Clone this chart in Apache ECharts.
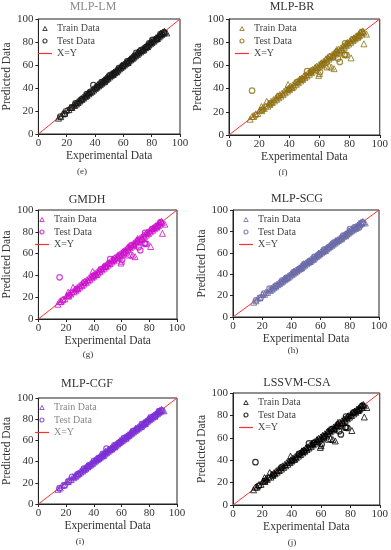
<!DOCTYPE html>
<html><head><meta charset="utf-8">
<script src="https://cdn.jsdelivr.net/npm/echarts@6/dist/echarts.min.js"></script>
<style>html,body{margin:0;padding:0;background:#fff}#c{width:391px;height:550px}</style>
</head><body><div id="c"></div>
<script>
// ---------- DATA ----------
const axisTicks = [0, 20, 40, 60, 80, 100];
const panelTitles = ['MLP-LM', 'MLP-BR', 'GMDH', 'MLP-SCG', 'MLP-CGF', 'LSSVM-CSA'];
const panelLabels = ['(e)', '(f)', '(g)', '(h)', '(i)', '(j)'];

// tight-fit models (MLP-LM, MLP-SCG, MLP-CGF): train data
const trainTight = [[14.2,13.8],[15.8,15.1],[17.1,17.6],[18.5,18.0],[20.3,20.9],[21.6,21.2],[22.4,23.1],[23.7,23.0],[24.9,25.6],[25.6,24.8],[26.3,26.9],[26.9,26.1],[27.5,28.2],[28.1,27.4],[28.8,29.3],[29.4,28.7],[30.2,30.8],[30.7,30.1],[31.3,31.9],[31.9,31.2],[32.6,33.1],[33.2,32.5],[33.8,34.4],[34.3,33.6],[35.0,35.7],[35.6,34.9],[36.1,36.8],[36.7,36.0],[37.4,38.0],[37.9,37.1],[38.5,39.2],[39.1,38.3],[39.8,40.4],[40.3,39.7],[40.9,41.6],[41.4,40.8],[42.0,42.7],[42.6,41.9],[43.1,43.8],[43.7,43.0],[44.2,44.9],[44.8,44.1],[45.3,46.0],[45.9,45.2],[46.4,47.1],[47.0,46.3],[47.5,48.3],[48.1,47.4],[48.7,49.4],[49.2,48.5],[49.8,50.6],[50.4,49.7],[50.9,51.7],[51.5,50.9],[52.1,52.8],[52.6,52.0],[53.2,53.9],[53.8,53.1],[54.4,55.0],[54.9,54.3],[55.5,56.2],[56.1,55.4],[56.7,57.3],[57.2,56.6],[57.8,58.5],[58.4,57.7],[59.0,59.6],[59.5,58.9],[60.1,60.8],[60.7,60.0],[61.3,61.9],[61.8,61.2],[62.4,63.1],[63.0,62.3],[63.6,64.2],[64.1,63.5],[64.7,65.4],[65.3,64.6],[65.9,66.5],[66.4,65.8],[67.0,67.7],[67.6,66.9],[68.2,68.8],[68.7,68.1],[69.3,70.0],[69.9,69.2],[70.5,71.1],[71.0,70.4],[71.6,72.3],[72.2,71.5],[72.8,73.4],[73.3,72.7],[73.9,74.6],[74.5,73.8],[75.1,75.7],[75.6,75.0],[76.2,76.9],[76.8,76.1],[77.4,78.0],[77.9,77.3],[78.5,79.2],[79.1,78.4],[79.7,80.3],[80.2,79.6],[80.8,81.5],[81.4,80.7],[82.0,82.6],[82.5,81.9],[83.1,83.8],[83.7,83.0],[84.3,84.9],[84.8,84.2],[85.4,86.0],[86.0,85.3],[86.6,87.2],[87.1,86.5],[87.7,88.4],[88.3,87.6],[88.9,89.3],[89.5,88.7],[90.6,87.9],
  [35.3,36.4],[41.8,42.9],[46.8,45.7],[52.9,51.9],[58.7,59.8],[63.3,62.1],[70.2,71.4],[74.2,73.1],[79.4,80.6],[84.0,82.9],[86.3,87.5],[48.4,49.8],[55.2,54.0],[66.7,67.9],[77.1,75.9]];

const testLM = [[15.5,15.2],[18.7,17.4],[19.5,19.8],[23.8,23.2],[26.2,26.7],[30.5,30.1],[34.1,34.6],[38.8,42.5],[41.2,40.6],[44.6,45.1],[47.8,47.2],[50.6,51.3],[53.5,52.9],[56.9,57.4],[59.8,59.3],[62.7,63.2],[66.1,65.5],[69.1,70.6],[72.4,72.9],[75.9,75.3],[78.2,78.8],[80.5,81.8],[83.4,82.8],[86.2,86.9],[88.6,88.1]];
const testSCG = [[15.8,15.6],[18.9,18.1],[21.2,21.8],[25.0,26.5],[29.4,29.0],[33.6,34.1],[37.2,36.7],[41.5,42.0],[45.3,44.8],[48.6,49.3],[52.4,51.9],[55.7,56.3],[58.9,58.4],[62.3,62.9],[65.6,65.1],[69.0,69.6],[72.1,71.5],[75.4,76.0],[78.0,77.5],[80.1,82.2],[83.2,83.7],[86.4,83.6],[88.7,88.3]];
const testCGF = [[15.2,15.0],[19.0,17.6],[21.7,21.3],[24.3,25.7],[28.6,28.1],[32.8,33.4],[36.4,35.8],[40.1,40.8],[43.9,43.3],[46.5,47.2],[49.1,52.2],[51.8,51.3],[54.8,55.4],[58.2,57.6],[61.6,62.2],[64.9,64.3],[68.4,69.0],[71.7,71.2],[74.6,75.3],[77.8,77.2],[81.0,81.7],[84.1,83.5],[86.9,87.5],[88.8,88.2]];

// loose-fit models (MLP-BR, GMDH, LSSVM-CSA): train data
const trainLoose = [[14.0,13.6],[15.2,15.9],[16.4,16.0],[17.8,18.3],[19.1,18.5],[20.5,21.4],[21.8,21.0],[22.6,23.8],[23.4,22.9],[24.3,25.1],[25.8,24.9],[26.5,27.6],[27.2,26.4],[28.0,28.9],[28.7,27.9],[29.5,30.6],[30.1,29.4],[30.9,31.8],[31.6,30.8],[32.3,33.5],[33.0,32.1],[33.7,34.9],[34.5,33.6],[35.2,36.1],[35.9,35.0],[36.6,37.8],[37.3,36.4],[38.0,39.1],[38.8,37.9],[39.5,40.4],[40.2,39.3],[40.9,42.0],[41.7,40.8],[42.4,43.3],[43.1,42.2],[43.8,44.9],[44.6,43.7],[45.3,46.2],[46.0,45.1],[46.7,47.8],[47.5,46.6],[48.2,49.1],[48.9,48.0],[49.6,50.7],[50.4,49.5],[51.1,52.0],[51.8,50.9],[52.5,53.6],[53.3,52.4],[54.0,54.9],[54.7,53.8],[55.4,56.5],[56.2,55.3],[56.9,57.8],[57.6,56.7],[58.3,59.4],[59.1,58.2],[59.8,60.7],[60.5,59.6],[61.2,62.3],[62.0,61.1],[62.7,63.6],[63.4,62.5],[64.1,65.2],[64.9,64.0],[65.6,66.5],[66.3,65.4],[67.0,68.1],[67.8,66.9],[68.5,69.4],[69.2,68.3],[69.9,71.0],[70.7,69.8],[71.4,72.3],[72.1,71.2],[72.8,73.9],[73.6,72.7],[74.3,75.2],[75.0,74.1],[75.7,76.8],[76.5,75.6],[77.2,78.1],[77.9,77.0],[78.6,79.7],[79.4,78.5],[80.1,81.0],[80.8,79.9],[81.5,82.6],[82.3,81.4],[83.0,83.9],[83.7,82.8],[84.4,85.5],[85.2,84.3],[85.9,86.8],[86.6,85.7],[87.3,88.4],[88.1,87.2],[88.8,89.7],[89.5,88.6],
  [42.0,41.0],[47.1,48.4],[50.0,51.3],[53.7,54.6],[57.3,58.5],[61.6,60.4],[64.5,65.8],[68.9,67.7],[71.0,72.2],[74.7,73.5],[78.2,79.4],[82.7,83.5],[85.6,84.6],[87.7,88.9],
  [91.2,87.0],[89.5,78.6],[81.0,66.5],[71.5,73.7],[65.0,58.7],[69.7,57.2],[59.5,51.4],[39.2,43.6],[25.0,29.0],[21.5,24.5],[68.0,58.5],[66.5,59.5],[60.0,53.0]];
const testLoose = [[15.3,38.2],[77.0,79.0],[77.0,69.4],[78.0,68.8],[76.5,69.0],[73.5,63.0],[72.3,65.9],[60.4,54.3],[51.8,55.0],[17.5,17.0],[22.0,21.6],[27.5,27.0],[33.0,33.5],[40.0,39.5],[45.0,45.6],[48.5,48.0],[55.0,55.5],[62.0,61.4],[67.0,67.6],[82.0,82.5],[86.0,85.4],[88.0,88.6]];

const identityLine = [[0,0],[100,100]];

const panelTrain = [trainTight, trainLoose, trainLoose, trainTight, trainTight, trainLoose];
const panelTest = [testLM, testLoose, testLoose, testSCG, testCGF, testLoose];

// ---------- LAYOUT / STYLE ----------
const grids = [
  {left:32, top:19, width:148, height:115},
  {left:229, top:19, width:152, height:116},
  {left:29, top:210, width:148, height:109},
  {left:233, top:210, width:146, height:107},
  {left:29, top:398, width:148, height:106},
  {left:233, top:393, width:147, height:112}
];
const colors = ['#151515', '#8C7012', '#CC10CC', '#6A6AA8', '#7A30D6', '#000000'];
const titlePos = [[93,7],[292,7],[87,200],[297,199],[87,384],[297,383]];
const titleColors = ['#8a8a8a','#333','#333','#333','#333','#333'];
const subPos = [[82,172],[283,173],[88,355],[293,351],[80,542],[292,543]];
const legendText = ['#444','#444','#444','#444','#888','#444'];
const FONT = '"Liberation Serif","Times New Roman",serif';
const triPath = 'path://M5,0 L10,9 L0,9 Z';
const circPath = 'path://M5,0 A5,5 0 1 1 4.99,0 Z';
const linePath = 'path://M0,0 L14,0 L14,1.2 L0,1.2 Z';

const option = {
  animation: false,
  backgroundColor: '#fff',
  grid: [], xAxis: [], yAxis: [], series: [], legend: [], graphic: []
};

grids.forEach((g, i) => {
  const sfx = '#' + i;
  option.grid.push(Object.assign({show:true, borderColor:'#222', borderWidth:1, backgroundColor:'transparent'}, g));
  const axisCommon = {
    gridIndex: i, type:'value', min: axisTicks[0], max: axisTicks[axisTicks.length-1], interval: axisTicks[1]-axisTicks[0],
    axisLine: {show:true, lineStyle:{color:'#222', width:1}},
    axisTick: {show:true, inside:false, length:3, lineStyle:{color:'#222'}},
    splitLine: {show:false},
    axisLabel: {fontFamily: FONT, fontSize: 11, color:'#333'},
    nameLocation: 'middle',
    nameTextStyle: {fontFamily: FONT, fontSize: 11.5, color:'#333'}
  };
  option.xAxis.push(Object.assign({}, axisCommon, {name:'Experimental Data', nameGap: 14, axisLabel: Object.assign({}, axisCommon.axisLabel, {margin:4})}));
  option.yAxis.push(Object.assign({}, axisCommon, {name:'Predicted Data', nameGap: 16, axisLabel: Object.assign({}, axisCommon.axisLabel, {margin:5})}));
  const c = colors[i];
  option.series.push({
    name: 'Train Data' + sfx, type:'scatter', xAxisIndex:i, yAxisIndex:i,
    symbol:'triangle', symbolSize:6,
    itemStyle:{color:'transparent', borderColor:c, borderWidth:1},
    data: panelTrain[i]
  });
  option.series.push({
    name: 'Test Data' + sfx, type:'scatter', xAxisIndex:i, yAxisIndex:i,
    symbol:'circle', symbolSize:5.5,
    itemStyle:{color:'transparent', borderColor:c, borderWidth:1.2},
    data: panelTest[i]
  });
  option.series.push({
    name: 'X=Y' + sfx, type:'line', xAxisIndex:i, yAxisIndex:i,
    symbol:'none', lineStyle:{color:'#FF3030', width:1}, itemStyle:{color:'#FF3030'},
    z: 1, data: identityLine
  });
  option.legend.push({
    orient:'vertical', left: g.left + 6, top: g.top + 4,
    itemWidth: 14, itemHeight: 4, itemGap: 1.5, padding: 0,
    symbolKeepAspect: true,
    formatter: n => n.split('#')[0],
    textStyle: {fontFamily: FONT, fontSize: 10, color: legendText[i], lineHeight: 11, padding:[0,0,0,0]},
    data: [
      {name:'Train Data'+sfx, icon: triPath, itemStyle:{color:'transparent', borderColor:c, borderWidth:1}},
      {name:'Test Data'+sfx, icon: circPath, itemStyle:{color:'transparent', borderColor:c, borderWidth:1.2}},
      {name:'X=Y'+sfx, icon: linePath, itemStyle:{color:'#FF3030', borderWidth:0}}
    ]
  });
  option.graphic.push({
    type:'text', x: titlePos[i][0], y: titlePos[i][1],
    style:{text: panelTitles[i], fontFamily: FONT, fontSize: 12, fill: titleColors[i], align:'center', verticalAlign:'middle'}
  });
  option.graphic.push({
    type:'text', x: subPos[i][0], y: subPos[i][1],
    style:{text: panelLabels[i], fontFamily: FONT, fontSize: 9, fill:'#333', align:'center', verticalAlign:'middle'}
  });
});

const chart = echarts.init(document.getElementById('c'), null, {renderer:'canvas'});
chart.setOption(option);
</script>
</body></html>
